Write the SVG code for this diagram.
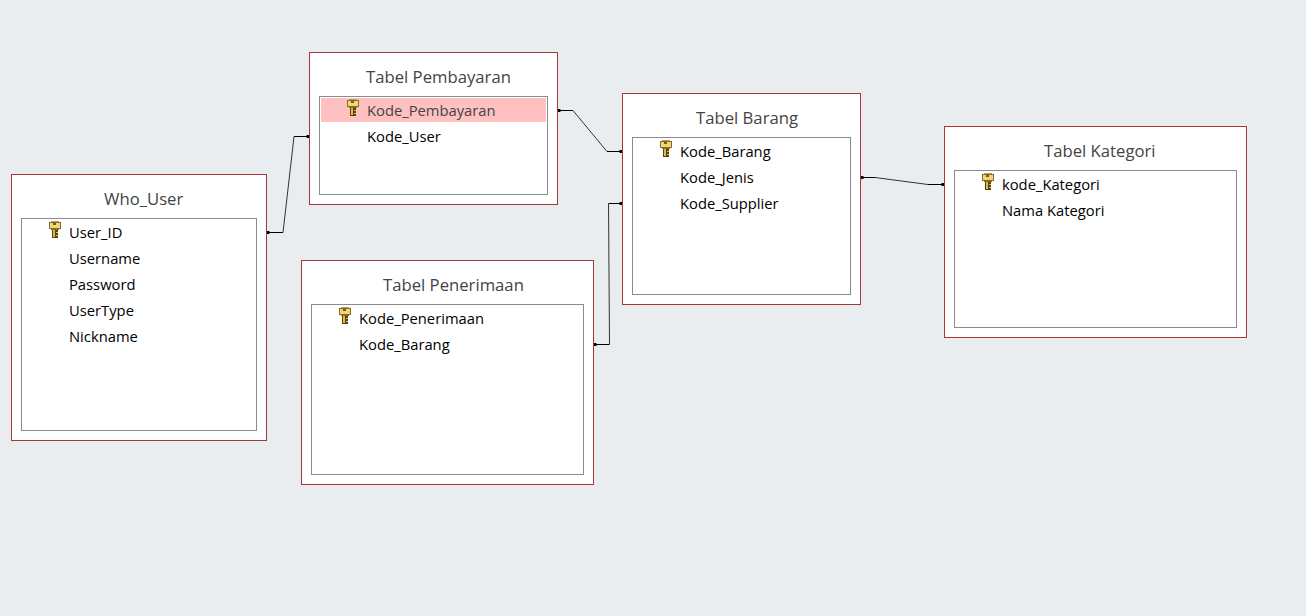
<svg xmlns="http://www.w3.org/2000/svg" width="1306" height="616" viewBox="0 0 1306 616">
<style>
.tbl{fill:#fff;stroke:#a4373a;stroke-width:1}
.list{fill:#fff;stroke:#8a8b8e;stroke-width:1}
.title{font-family:"Open Sans","Noto Sans",sans-serif;font-size:16.7px;fill:#444}
.f{font-family:"Open Sans","Noto Sans",sans-serif;font-size:14.75px;fill:#000}
.sel{fill:#444}
.c{fill:none;stroke:#333;stroke-width:1}
.e{fill:none;stroke:#000;stroke-width:1}
.d{fill:#000}
</style>
<defs>
<g id="key">
<rect x="2" y="0" width="8" height="2" fill="#b89a68"/>
<rect x="0" y="1" width="12" height="7" fill="#8a6a20"/>
<rect x="1" y="2" width="10" height="5" fill="#ecd878"/>
<rect x="4" y="2" width="3" height="2" fill="#7a5a20"/>
<rect x="2" y="8" width="8" height="1" fill="#8a6a20"/>
<rect x="3" y="9" width="6" height="8" fill="#5a4210"/>
<rect x="4" y="9" width="2" height="7" fill="#d8bc50"/>
<rect x="7" y="11" width="2" height="1" fill="#d8bc50"/>
<rect x="7" y="14" width="2" height="1" fill="#d8bc50"/>
</g>
<rect id="dot" x="-1.500" y="-1.500" width="3" height="3" class="d"/>
</defs>
<rect width="1306" height="616" fill="#eaedf0"/>
<g id="connectors">
<path class="c" d="M267.500 232.500H283L294 136.500H309.500"/>
<path class="c" d="M558 110.500H573L607 151.500H622"/>
<path class="c" d="M594 344.500H609.500L608.500 203.500H622"/>
<path class="c" d="M861 177.500H875L928 184.500H944"/>
<path class="e" d="M267 232.500H283M294 136.500H310M558 110.500H573M607 151.500H622M594 344.500H609M609 203.500H622M861 177.500H875M928 184.500H944"/>
<use href="#dot" x="268" y="232.500"/>
<use href="#dot" x="308" y="136.500"/>
<use href="#dot" x="559" y="110.500"/>
<use href="#dot" x="621" y="151.500"/>
<use href="#dot" x="595" y="344.500"/>
<use href="#dot" x="621" y="203.500"/>
<use href="#dot" x="862" y="177.500"/>
<use href="#dot" x="943" y="184.500"/>
</g>
<g id="who_user">
<rect class="tbl" x="11.500" y="174.500" width="255" height="266"/>
<rect class="list" x="21.500" y="218.500" width="235" height="212"/>
<text class="title" x="104" y="204.500">Who_User</text>
<use href="#key" x="49" y="221"/>
<text class="f" x="69" y="238">User_ID</text>
<text class="f" x="69" y="264">Username</text>
<text class="f" x="69" y="290">Password</text>
<text class="f" x="69" y="316">UserType</text>
<text class="f" x="69" y="342">Nickname</text>
</g>
<g id="tabel_pembayaran">
<rect class="tbl" x="309.500" y="52.500" width="248" height="152"/>
<rect class="list" x="319.500" y="96.500" width="228" height="98"/>
<rect x="321" y="98" width="225" height="24" fill="#ffc0c0"/>
<text class="title" x="366" y="82.500">Tabel Pembayaran</text>
<use href="#key" x="347" y="99"/>
<text class="f sel" x="367" y="116">Kode_Pembayaran</text>
<text class="f" x="367" y="142">Kode_User</text>
</g>
<g id="tabel_penerimaan">
<rect class="tbl" x="301.500" y="260.500" width="292" height="224"/>
<rect class="list" x="311.500" y="304.500" width="272" height="170"/>
<text class="title" x="383" y="290.500">Tabel Penerimaan</text>
<use href="#key" x="339" y="307"/>
<text class="f" x="359" y="324">Kode_Penerimaan</text>
<text class="f" x="359" y="350">Kode_Barang</text>
</g>
<g id="tabel_barang">
<rect class="tbl" x="622.500" y="93.500" width="238" height="211"/>
<rect class="list" x="632.500" y="137.500" width="218" height="157"/>
<text class="title" x="696" y="123.500">Tabel Barang</text>
<use href="#key" x="660" y="140"/>
<text class="f" x="680" y="157">Kode_Barang</text>
<text class="f" x="680" y="183">Kode_Jenis</text>
<text class="f" x="680" y="209">Kode_Supplier</text>
</g>
<g id="tabel_kategori">
<rect class="tbl" x="944.500" y="126.500" width="302" height="211"/>
<rect class="list" x="954.500" y="170.500" width="282" height="157"/>
<text class="title" x="1044" y="156.500">Tabel Kategori</text>
<use href="#key" x="982" y="173"/>
<text class="f" x="1002" y="190">kode_Kategori</text>
<text class="f" x="1002" y="216">Nama Kategori</text>
</g>
</svg>
